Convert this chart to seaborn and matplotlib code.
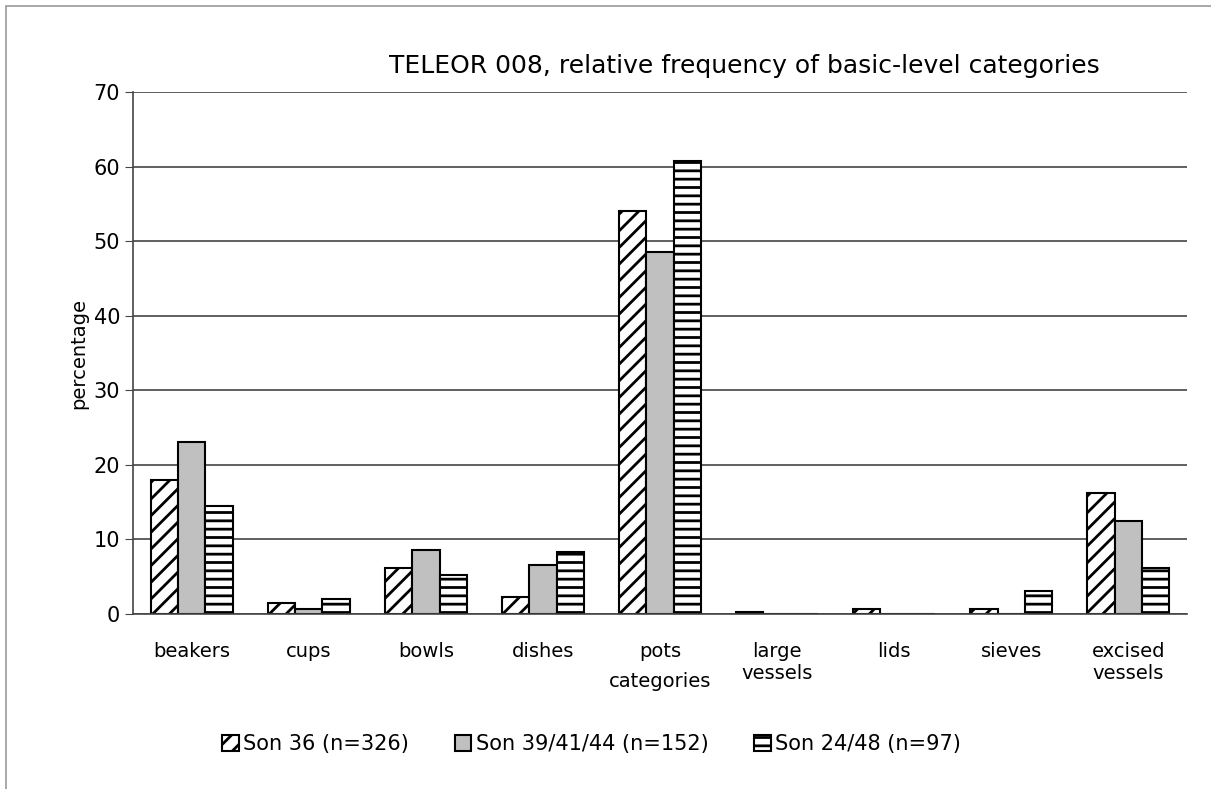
import matplotlib
matplotlib.use('Agg')
import matplotlib.pyplot as plt
import seaborn as sns
import pandas as pd
import numpy as np

categories = ['beakers', 'cups', 'bowls', 'dishes', 'pots', 'large\nvessels', 'lids', 'sieves', 'excised\nvessels']
son36 = [18.0, 1.5, 6.2, 2.3, 54.1, 0.3, 0.6, 0.6, 16.2]
son39 = [23.1, 0.7, 8.6, 6.5, 48.6, 0.0, 0.0, 0.0, 12.5]
son24 = [14.5, 2.0, 5.2, 8.3, 60.8, 0.0, 0.0, 3.1, 6.1]
series = ['Son 36 (n=326)', 'Son 39/41/44 (n=152)', 'Son 24/48 (n=97)']

df = pd.DataFrame({
    'category': categories * 3,
    'value': son36 + son39 + son24,
    'series': [series[0]] * 9 + [series[1]] * 9 + [series[2]] * 9,
})

sns.set_style('white')
plt.rcParams['font.family'] = ['DejaVu Sans']
plt.rcParams['hatch.linewidth'] = 2.0
plt.rcParams['text.color'] = 'black'
plt.rcParams['axes.labelcolor'] = 'black'
plt.rcParams['xtick.color'] = 'black'
plt.rcParams['ytick.color'] = 'black'

fig = plt.figure(figsize=(12.11, 7.89), dpi=100)
ax = fig.add_axes([0.11, 0.222, 0.87, 0.661])

ax = sns.barplot(data=df, x='category', y='value', hue='series', order=categories,
                 hue_order=series, palette=['white', '#c0c0c0', 'white'],
                 width=0.7, edgecolor='black', linewidth=1.5, ax=ax, legend=False)

hatches = ['//', '', '--']
for cont, h in zip(ax.containers, hatches):
    for bar in cont:
        bar.set_hatch(h)

ax.set_ylim(0, 70)
ax.set_yticks(range(0, 71, 10))
ax.yaxis.grid(True, color='#444444', linewidth=1.2)
ax.set_axisbelow(True)
for s in ['top', 'right']:
    ax.spines[s].set_visible(False)
for s in ['left', 'bottom']:
    ax.spines[s].set_color('#444444')
    ax.spines[s].set_linewidth(1.2)

ax.set_xticks(np.arange(-0.5, len(categories), 1), minor=True)
ax.tick_params(axis='x', which='major', length=0, labelsize=14, pad=20)
ax.tick_params(axis='x', which='minor', length=6, color='#444444', direction='out')
ax.tick_params(axis='y', which='major', length=6, color='#444444', direction='out', labelsize=15, left=True)
ax.set_xlim(-0.5, len(categories) - 0.5)

ax.set_xlabel('categories', fontsize=14, labelpad=-8)
ax.set_ylabel('percentage', fontsize=14)
ax.set_title('TELEOR 008, relative frequency of basic-level categories', fontsize=18, pad=14, x=0.58)

handles = [cont.patches[0] for cont in ax.containers]
ax.legend(handles, series, loc='upper center', bbox_to_anchor=(0.435, -0.195), ncol=3, frameon=False,
          fontsize=15, handlelength=0.8, handleheight=0.8, handletextpad=0.2, columnspacing=2.2)

fig.patches.append(plt.Rectangle((0.005, -0.01), 1.1, 1.002, transform=fig.transFigure,
                                 fill=False, edgecolor='#999999', linewidth=1.2))

fig.savefig('out.png', dpi=100)
